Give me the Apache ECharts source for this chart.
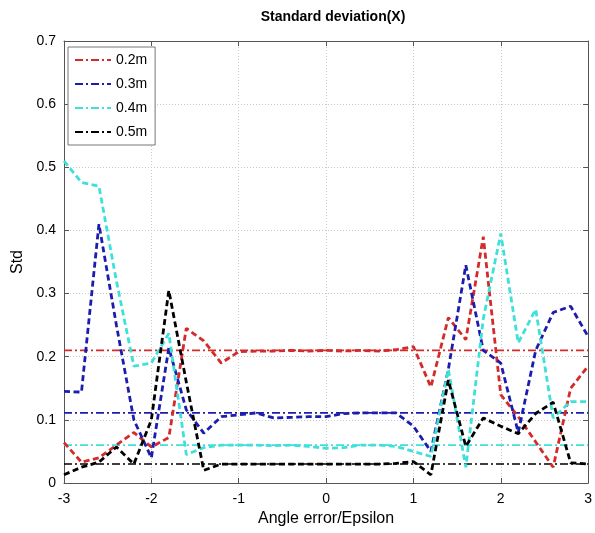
<!DOCTYPE html>
<html>
<head>
<meta charset="utf-8">
<script src="https://cdn.jsdelivr.net/npm/echarts@6/dist/echarts.min.js"></script>
<style>html,body{margin:0;padding:0;background:#fff;}#c{width:595px;height:533px;}</style>
</head>
<body>
<div id="c"></div>
<script>
var xValues = [-3,-2.8,-2.6,-2.4,-2.2,-2.0,-1.8,-1.6,-1.4,-1.2,-1.0,-0.8,-0.6,-0.4,-0.2,0,0.2,0.4,0.6,0.8,1.0,1.2,1.4,1.6,1.8,2.0,2.2,2.4,2.6,2.8,3.0];
var red   = [0.064,0.033,0.04,0.06,0.08,0.057,0.072,0.245,0.225,0.19,0.208,0.209,0.209,0.21,0.209,0.21,0.209,0.21,0.209,0.211,0.216,0.152,0.262,0.227,0.39,0.14,0.105,0.065,0.025,0.15,0.185];
var blue  = [0.145,0.144,0.41,0.25,0.1,0.04,0.214,0.116,0.079,0.105,0.108,0.111,0.103,0.104,0.105,0.105,0.11,0.111,0.111,0.111,0.09,0.05,0.18,0.345,0.21,0.19,0.08,0.21,0.27,0.28,0.232];
var cyan  = [0.51,0.476,0.47,0.32,0.185,0.19,0.237,0.045,0.056,0.06,0.06,0.06,0.059,0.06,0.058,0.055,0.056,0.06,0.06,0.058,0.05,0.042,0.18,0.025,0.26,0.395,0.222,0.275,0.103,0.129,0.129];
var black = [0.013,0.025,0.033,0.057,0.03,0.1,0.305,0.16,0.02,0.03,0.03,0.03,0.03,0.03,0.03,0.03,0.03,0.03,0.03,0.031,0.034,0.013,0.163,0.058,0.103,0.09,0.078,0.11,0.128,0.032,0.03];
var names = ['0.2m','0.3m','0.4m','0.5m'];
var refValues = [0.21,0.111,0.06,0.03];
var colors = ['#d42a2a','#1c1cae','#3fe0da','#000000'];
var curves = [red, blue, cyan, black];
var xRange = [-3, 3];

function pairs(ys){ return xValues.map(function(x,i){ return [x, ys[i]]; }); }

var series = [];
curves.forEach(function(ys, k){
  series.push({
    type:'line', name: names[k] + ' curve', data: pairs(ys), symbol:'none',
    lineStyle:{color:colors[k], width:2.8, type:[6,3.5]}, z: 3, animation:false
  });
});
refValues.forEach(function(v, k){
  series.push({
    type:'line', name: names[k], data: [[xRange[0], v],[xRange[1], v]], symbol:'none',
    lineStyle:{color:colors[k], width:1.6, type:[8,3,2,3]}, itemStyle:{color:colors[k]}, z: 2, animation:false
  });
});

var font = 'Liberation Sans, Arial, sans-serif';
var axisCol = '#555';
var chart = echarts.init(document.getElementById('c'), null, {renderer:'canvas'});
chart.setOption({
  animation:false,
  backgroundColor:'#fff',
  title:{text:'Standard deviation(X)', left:328, top:5, textAlign:'center',
    textStyle:{fontFamily:font, fontSize:14, fontWeight:'bold', color:'#000'}},
  legend:{data:names, orient:'vertical', left:68, top:47, itemWidth:36, itemHeight:12, itemGap:10,
    padding:[6,8,6,6], borderColor:'#777', borderWidth:1, backgroundColor:'#fff',
    itemStyle:{opacity:0},
    textStyle:{fontFamily:font, fontSize:14, color:'#000'}},
  grid:{left:64, right:3, top:41, bottom:50},
  xAxis:[{type:'value', min:-3, max:3, interval:1, position:'bottom',
    name:'Angle error/Epsilon', nameLocation:'middle', nameGap:26,
    nameTextStyle:{fontFamily:font, fontSize:16, color:'#000'},
    axisLine:{show:true, onZero:false, lineStyle:{color:axisCol}}, axisTick:{inside:true, length:5, lineStyle:{color:axisCol}},
    axisLabel:{fontFamily:font, fontSize:14, color:'#000', margin:9},
    splitLine:{show:true, lineStyle:{color:'#c8c8c8', type:[1,2]}}},
    {type:'value', min:-3, max:3, interval:1, position:'top', axisLine:{show:true, onZero:false, lineStyle:{color:axisCol}},
    axisTick:{inside:true, length:5, lineStyle:{color:axisCol}}, axisLabel:{show:false}, splitLine:{show:false}}],
  yAxis:[{type:'value', min:0, max:0.7, interval:0.1, position:'left',
    name:'Std', nameLocation:'middle', nameGap:38,
    nameTextStyle:{fontFamily:font, fontSize:16, color:'#000'},
    axisLine:{show:true, onZero:false, lineStyle:{color:axisCol}}, axisTick:{inside:true, length:5, lineStyle:{color:axisCol}},
    axisLabel:{fontFamily:font, fontSize:14, color:'#000', margin:8,
      formatter:function(v){ return v===0 ? '0' : v.toFixed(1); }},
    splitLine:{show:true, lineStyle:{color:'#c8c8c8', type:[1,2]}}},
    {type:'value', min:0, max:0.7, interval:0.1, position:'right', axisLine:{show:true, onZero:false, lineStyle:{color:axisCol}},
    axisTick:{inside:true, length:5, lineStyle:{color:axisCol}}, axisLabel:{show:false}, splitLine:{show:false}}],
  series: series
});
</script>
</body>
</html>
